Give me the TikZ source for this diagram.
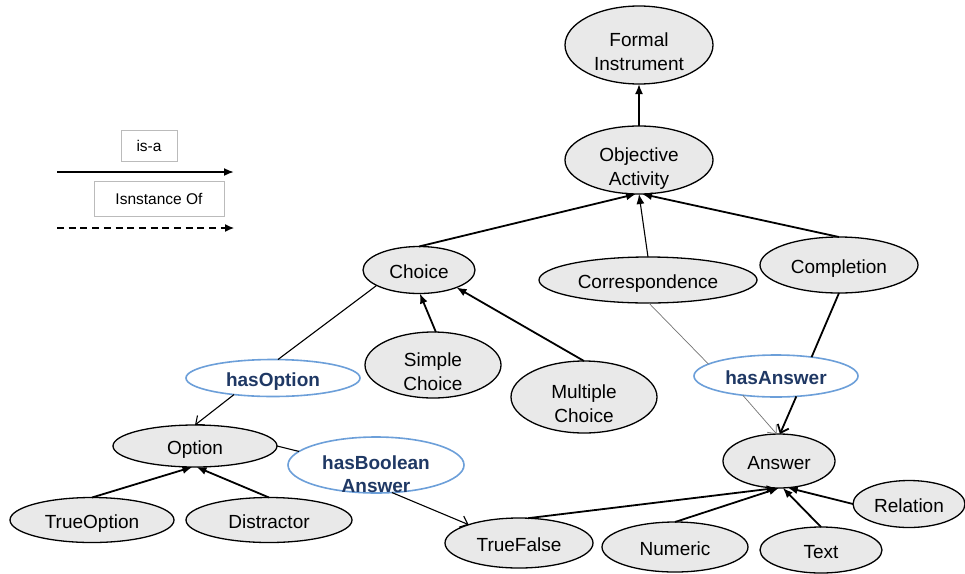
\documentclass[tikz,border=0pt]{standalone}
\usepackage{fontspec}
\setmainfont{Liberation Sans}
\usetikzlibrary{arrows.meta,shapes.geometric}
\definecolor{nodefill}{HTML}{E9E9E9}
\definecolor{relblue}{HTML}{6C9FD9}
\definecolor{relnavy}{HTML}{1F3864}
\definecolor{legendgray}{HTML}{BBBBBB}

\begin{document}
\begin{tikzpicture}[x=1pt,y=-1pt,
  concept/.style={ellipse, draw=black, line width=1.3pt, fill=nodefill,
    inner sep=0pt, outer sep=0pt, align=center,
    font=\fontsize{19}{24.5}\selectfont},
  relation/.style={ellipse, draw=relblue, line width=1.6pt, fill=white,
    inner sep=0pt, outer sep=0pt, align=center, text=relnavy,
    font=\fontsize{19}{23}\selectfont\bfseries},
  oneline/.style={text height=19pt, text depth=2pt},
  % two-line labels sit a little below the middle of their ellipse
  twoline/.style={text height=53pt, text depth=1.5pt, inner ysep=-14pt},
  legendbox/.style={draw=legendgray, line width=0.8pt, inner sep=0pt,
    font=\fontsize{15.5}{18}\selectfont},
  isa/.style={line width=1.8pt, -{Latex[length=10pt,width=8pt]}},
  isathin/.style={line width=1.1pt, -{Latex[length=10pt,width=8pt]}},
  rel/.style={line width=1.1pt},
  relthin/.style={line width=0.7pt, draw=black!55},
  relarrow/.style={line width=1.1pt, -{Straight Barb[length=7pt,width=12pt]}},
  relarrowthin/.style={line width=0.7pt, draw=black!55, -{Straight Barb[length=7pt,width=12pt]}},
  relarrowthick/.style={line width=1.8pt, -{Straight Barb[length=7pt,width=12pt]}},
  instanceof/.style={line width=1.2pt, dash pattern=on 7pt off 4.7pt, -{Latex[length=9pt,width=8pt]}}
]
\useasboundingbox (0,0) rectangle (965,573);

% legend
\node[legendbox, minimum width=56, minimum height=31] (lgisa) at (149,146) {is-a};
\coordinate (isaA) at (57,172);
\coordinate (isaB) at (234,172);
\draw[isa] (isaA) -- (isaB);
\node[legendbox, minimum width=130, minimum height=35] (lginst) at (159,199) {Isnstance Of};
\coordinate (instA) at (57,228);
\coordinate (instB) at (234,228);
\draw[instanceof] (instA) -- (instB);

% class hierarchy
\node[concept, twoline, minimum width=148, minimum height=78] (formal) at (639,45) {Formal\\Instrument};
\node[concept, twoline, minimum width=148, minimum height=68] (objective) at (639,160) {Objective\\Activity};
\node[concept, oneline, minimum width=112, minimum height=47] (choice) at (419,270) {Choice};
\node[concept, oneline, minimum width=218, minimum height=46] (corr) at (648,280) {Correspondence};
\node[concept, oneline, minimum width=158, minimum height=56] (compl) at (839,265) {Completion};
\node[concept, twoline, minimum width=136, minimum height=66] (simple) at (433,365) {Simple\\Choice};
\node[concept, twoline, minimum width=146, minimum height=72] (multiple) at (584,397) {Multiple\\Choice};
\node[concept, oneline, minimum width=164, minimum height=42] (option) at (195,446) {Option};
\node[concept, oneline, minimum width=164, minimum height=45] (trueopt) at (92,520) {TrueOption};
\node[concept, oneline, minimum width=166, minimum height=45] (distr) at (269,520) {Distractor};
\node[concept, oneline, minimum width=112, minimum height=54] (answer) at (779,461) {Answer};
\node[concept, oneline, minimum width=148, minimum height=50] (truefalse) at (519,543) {TrueFalse};
\node[concept, oneline, minimum width=146, minimum height=50] (numeric) at (675,547) {Numeric};
\node[concept, oneline, minimum width=122, minimum height=46] (textn) at (821,550) {Text};
\node[concept, oneline, minimum width=112, minimum height=47] (relation) at (909,504) {Relation};

% properties
\node[relation, oneline, minimum width=174, minimum height=37] (hasopt) at (273,378) {hasOption};
\node[relation, text height=55.5pt, text depth=1.5pt, inner ysep=-14pt, minimum width=176, minimum height=56] (hasbool) at (376,465) {hasBoolean\\Answer};
\node[relation, oneline, minimum width=164, minimum height=42] (hasans) at (776,376) {hasAnswer};

% is-a links
\draw[isa] (objective.north) -- (formal.south);
\draw[isa] (choice.north) -- (objective.-95);
\draw[isathin] (corr.north) -- (objective.-90);
\draw[isa] (compl.north) -- (objective.-85);
\draw[isa] (simple.85) -- (choice.-88);
\draw[isa] (multiple.north) -- (choice.-25);
\draw[isa] (trueopt.north) -- (option.-97);
\draw[isa] (distr.north) -- (option.-86);
\draw[isa] (truefalse.70) -- (answer.-95);
\draw[isa] (numeric.north) -- (answer.-90);
\draw[isa] (textn.north) -- (answer.-82);
\draw[isa] (relation.west) -- (answer.-72);

% property links
\draw[rel] (choice.-160) -- (hasopt.75);
\draw[relarrow] (hasopt.-157) -- (option.north);
\draw[rel] (option.east) -- (hasbool.170);
\draw[relarrow] (hasbool.-60) -- (truefalse.160);
\draw[relthin] (corr.-88) -- (hasans.170);
\draw[relarrowthin] (hasans.-150) -- (answer.95);
\draw[line width=1.8pt] (compl.south) -- (hasans.28);
\draw[relarrowthick] (hasans.-45) -- (answer.88);
\end{tikzpicture}
\end{document}
